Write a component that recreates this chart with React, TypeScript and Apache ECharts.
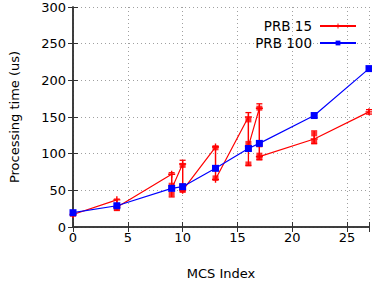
import React, { useEffect, useRef } from "react";
import * as echarts from "echarts";

// PRB 15 line (gnuplot-style, several rows per MCS so the line zigzags)
const prb15Line: [number, number][] = [
  [0, 17], [4, 37], [4, 27], [9, 72], [9, 52], [10, 86], [10, 50],
  [13, 109], [13, 65], [16, 150], [16, 110], [17, 162], [17, 96],
  [22, 120], [27, 157],
];
// PRB 15 error bars: [mcs, low, high]
const prb15Err: [number, number, number][] = [
  [0, 15, 19], [4, 23, 38], [9, 41, 74], [10, 48, 91], [13, 64, 110],
  [16, 84, 156], [17, 92, 168], [22, 114, 131], [27, 154, 160],
];
// PRB 15 sample clusters
const prb15Samples: [number, number][] = [
  [4, 25], [9, 57], [9, 45], [10, 84], [10, 56], [10, 50], [13, 108], [13, 67],
  [16, 146], [16, 114], [16, 107], [16, 86], [17, 162], [17, 112], [17, 98],
  [17, 94], [22, 116], [22, 127],
];
// PRB 100
const prb100: [number, number][] = [
  [0, 19.5], [4, 29], [9, 52.7], [10, 55], [13, 80], [16, 107], [17, 114],
  [22, 152], [27, 216],
];

const xTicks = [0, 5, 10, 15, 20, 25];
const yTicks = [0, 50, 100, 150, 200, 250, 300];

const FONT = "DejaVu Sans";
const RED = "#ff0000";
const BLUE = "#0000ff";
const AXIS = "#333333";
const PLUS = "path://M4,0H6V4H10V6H6V10H4V6H0V4H4Z";

export default function App() {
  const ref = useRef<HTMLDivElement>(null);
  useEffect(() => {
    document.body.style.margin = "0";
    const chart = echarts.init(ref.current!, null, { renderer: "svg" });
    const axisCommon = {
      axisLine: { show: true, lineStyle: { color: AXIS, width: 1.5 } },
      axisTick: { show: true, inside: true, length: 5, lineStyle: { color: AXIS, width: 1 } },
    };
    chart.setOption({
      animation: false,
      backgroundColor: "#ffffff",
      textStyle: { fontFamily: FONT },
      grid: { left: 70, right: 0, top: 7, bottom: 59 },
      legend: {
        data: ["PRB 15", "PRB 100"],
        orient: "vertical",
        right: 10,
        top: 14,
        align: "right",
        itemWidth: 36,
        itemHeight: 6,
        itemGap: 3,
        textStyle: { fontSize: 13.5, color: "#000", fontFamily: FONT, padding: [0, 3, 0, 0] },
      },
      xAxis: [
        {
          type: "value",
          min: 0,
          max: 27,
          interval: 5,
          ...axisCommon,
          axisLabel: {
            fontSize: 13,
            color: "#000",
            fontFamily: FONT,
            margin: 4,
            formatter: (v: number) => (xTicks.includes(v) ? String(v) : ""),
          },
          splitLine: { show: true, lineStyle: { color: "#a0a0a0", type: [1, 3], width: 1 } },
          name: "MCS Index",
          nameLocation: "middle",
          nameGap: 40,
          nameTextStyle: { fontSize: 13, color: "#000", fontFamily: FONT },
        },
        {
          type: "value",
          position: "top",
          min: 0,
          max: 27,
          interval: 5,
          ...axisCommon,
          axisLabel: { show: false },
          splitLine: { show: false },
        },
      ],
      yAxis: [
        {
          type: "value",
          min: 0,
          max: 300,
          interval: 50,
          ...axisCommon,
          axisLabel: {
            fontSize: 13,
            color: "#000",
            fontFamily: FONT,
            margin: 7,
            formatter: (v: number) => (yTicks.includes(v) ? String(v) : ""),
          },
          splitLine: { show: true, lineStyle: { color: "#a0a0a0", type: [1, 3], width: 1 } },
          name: "Processing time (us)",
          nameLocation: "middle",
          nameRotate: 90,
          nameGap: 52,
          nameTextStyle: { fontSize: 13, color: "#000", fontFamily: FONT },
        },
        {
          type: "value",
          position: "right",
          min: 0,
          max: 300,
          interval: 50,
          ...axisCommon,
          axisLabel: { show: false },
          splitLine: { show: false },
        },
      ],
      series: [
        {
          name: "PRB 15",
          type: "line",
          data: prb15Line,
          symbol: PLUS,
          symbolSize: 7,
          showSymbol: true,
          lineStyle: { color: RED, width: 1.2 },
          itemStyle: { color: RED },
          z: 3,
        },
        {
          name: "PRB 15",
          type: "custom",
          data: prb15Err,
          encode: { x: 0, y: [1, 2] },
          renderItem: (params: any, api: any) => {
            const x = api.value(0);
            const lo = api.coord([x, api.value(1)]);
            const hi = api.coord([x, api.value(2)]);
            const w = 3;
            const st = { stroke: RED, lineWidth: 1.3 };
            return {
              type: "group",
              children: [
                { type: "line", shape: { x1: lo[0], y1: lo[1], x2: hi[0], y2: hi[1] }, style: st },
                { type: "line", shape: { x1: lo[0] - w, y1: lo[1], x2: lo[0] + w, y2: lo[1] }, style: st },
                { type: "line", shape: { x1: hi[0] - w, y1: hi[1], x2: hi[0] + w, y2: hi[1] }, style: st },
              ],
            };
          },
          z: 3,
        },
        {
          name: "PRB 15",
          type: "scatter",
          data: prb15Samples,
          symbol: "rect",
          symbolSize: [6, 5],
          itemStyle: { color: RED },
          z: 3,
        },
        {
          name: "PRB 100",
          type: "line",
          data: prb100,
          symbol: "rect",
          symbolSize: 7,
          showSymbol: true,
          lineStyle: { color: BLUE, width: 1.2 },
          itemStyle: { color: BLUE },
          z: 4,
        },
      ],
    });
    return () => chart.dispose();
  }, []);
  return <div ref={ref} style={{ width: 372, height: 286 }} />;
}
